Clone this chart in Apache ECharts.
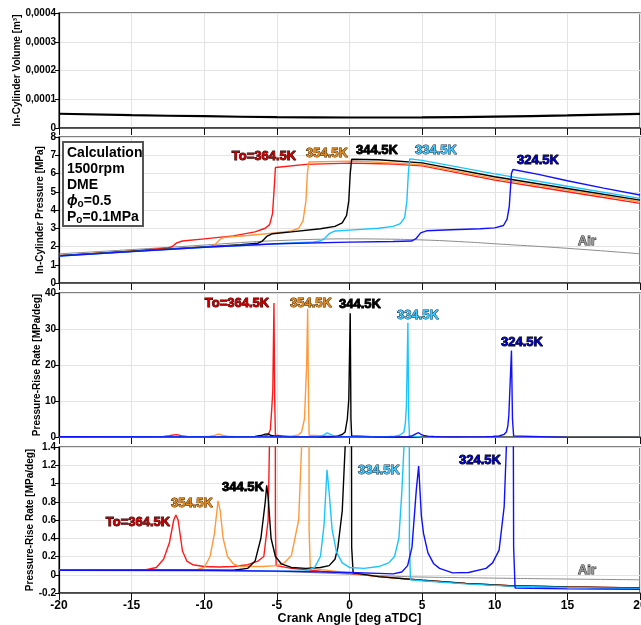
<!DOCTYPE html>
<html>
<head>
<meta charset="utf-8">
<script src="https://cdn.jsdelivr.net/npm/echarts@6/dist/echarts.min.js"></script>
<style>
  html, body { margin: 0; padding: 0; background: #fff; }
  #chart { width: 641px; height: 625px; }
</style>
</head>
<body>
<div id="chart"></div>
<script>
// crank angle ticks
const xTicks = [-20, -15, -10, -5, 0, 5, 10, 15, 20];

// in-cylinder volume [m3]
const volume = [[-20, 0.0000495], [-15, 0.0000445], [-10, 0.000041], [-5, 0.0000378], [0, 0.0000365],
  [5, 0.0000372], [10, 0.0000398], [15, 0.0000438], [20, 0.000049]];

// in-cylinder pressure [MPa]
const pAir = [[-20, 1.6], [-15, 1.83], [-10, 2.08], [-7, 2.24], [-5, 2.32], [-2, 2.4], [0, 2.42], [2, 2.41],
  [5, 2.36], [8, 2.25], [10, 2.15], [15, 1.9], [20, 1.6]];
const p364 = [[-20, 1.5], [-15, 1.74], [-12.5, 1.92], [-12.2, 2.0], [-11.9, 2.2], [-11.5, 2.3], [-10, 2.42],
  [-8, 2.58], [-6.5, 2.8], [-5.8, 3.0], [-5.5, 3.2], [-5.3, 3.8], [-5.2, 5.0], [-5.1, 6.33], [-3, 6.5],
  [0, 6.57], [3, 6.52], [5, 6.42], [10, 5.64], [15, 5.0], [20, 4.36]];
const p354 = [[-20, 1.5], [-15, 1.74], [-10, 1.98], [-9.5, 2.03], [-9.2, 2.15], [-8.9, 2.4], [-8.6, 2.5],
  [-7, 2.6], [-5, 2.75], [-4, 2.85], [-3.5, 3.0], [-3.2, 3.4], [-3.0, 4.5], [-2.9, 6.0], [-2.8, 6.63],
  [0, 6.68], [2, 6.62], [5, 6.48], [10, 5.72], [15, 5.09], [20, 4.45]];
const p344 = [[-20, 1.5], [-15, 1.74], [-10, 1.98], [-7.5, 2.1], [-6.3, 2.18], [-6.0, 2.3], [-5.7, 2.55],
  [-5.3, 2.7], [-4, 2.8], [-2, 2.97], [-1, 3.1], [-0.5, 3.3], [-0.2, 3.7], [-0.05, 4.5], [0.05, 6.0],
  [0.15, 6.78], [2, 6.75], [5, 6.58], [10, 5.82], [15, 5.18], [20, 4.54]];
const p334 = [[-20, 1.48], [-15, 1.72], [-10, 1.96], [-5, 2.15], [-2.5, 2.25], [-2.0, 2.3], [-1.7, 2.45],
  [-1.4, 2.7], [-1.0, 2.85], [0, 2.9], [2, 3.0], [3, 3.1], [3.5, 3.25], [3.8, 3.6], [3.95, 4.5], [4.05, 6.0],
  [4.15, 6.8], [5, 6.72], [10, 5.98], [15, 5.3], [20, 4.64]];
const p324 = [[-20, 1.48], [-15, 1.72], [-10, 1.96], [-5, 2.15], [0, 2.24], [3, 2.27], [4.3, 2.3], [4.6, 2.45],
  [4.9, 2.75], [5.3, 2.86], [7, 2.92], [9, 2.97], [10, 3.02], [10.6, 3.15], [10.85, 3.5], [11.0, 4.2],
  [11.15, 6.0], [11.25, 6.22], [13, 5.95], [15, 5.6], [17.5, 5.2], [20, 4.82]];

// pressure-rise rate [MPa/deg]
const rAir = [[-20, 0.055], [-10, 0.05], [-5, 0.035], [-2, 0.02], [0, 0.005], [3, -0.015], [5, -0.025],
  [10, -0.037], [15, -0.047], [20, -0.055]];
const r364 = [[-20, 0.05], [-15, 0.05], [-14, 0.055], [-13.3, 0.08], [-12.8, 0.17], [-12.4, 0.35], [-12.1, 0.6],
  [-11.95, 0.655], [-11.8, 0.6], [-11.5, 0.26], [-11.2, 0.15], [-10.8, 0.11], [-10, 0.09], [-9, 0.085],
  [-8, 0.09], [-7, 0.11], [-6.3, 0.15], [-5.9, 0.2], [-5.6, 0.6], [-5.45, 2], [-5.35, 8], [-5.28, 13],
  [-5.2, 37.2], [-5.15, 10], [-5.1, 0.5], [-5.05, 0.1], [-4, 0.07], [-2, 0.04], [0, 0.015], [2, -0.02],
  [5, -0.06], [8, -0.095], [11, -0.12], [15, -0.135], [20, -0.145]];
const r354 = [[-20, 0.05], [-10.5, 0.055], [-10, 0.08], [-9.6, 0.2], [-9.3, 0.45], [-9.05, 0.81], [-8.9, 0.7],
  [-8.7, 0.4], [-8.4, 0.2], [-8, 0.12], [-7.5, 0.09], [-6, 0.09], [-5, 0.1], [-4.5, 0.13], [-4, 0.21],
  [-3.5, 0.6], [-3.3, 1.4], [-3.1, 5], [-2.95, 20], [-2.88, 35.6], [-2.82, 10], [-2.78, 0.5], [-2.7, 0.07],
  [0, 0.02], [2, -0.02], [5, -0.06], [8, -0.095], [11, -0.12], [15, -0.135], [20, -0.145]];
const r344 = [[-20, 0.05], [-8, 0.05], [-7, 0.07], [-6.5, 0.15], [-6.1, 0.4], [-5.8, 0.8], [-5.7, 0.98],
  [-5.6, 0.85], [-5.4, 0.4], [-5.1, 0.2], [-4.7, 0.12], [-4, 0.08], [-3, 0.07], [-2, 0.08], [-1.4, 0.1],
  [-1, 0.17], [-0.8, 0.3], [-0.5, 0.7], [-0.3, 1.4], [-0.15, 5], [-0.05, 10.4], [0.05, 34.4], [0.1, 5],
  [0.15, 0.3], [0.25, 0.02], [2, -0.02], [5, -0.06], [8, -0.095], [11, -0.12], [15, -0.135], [20, -0.145]];
const r334 = [[-20, 0.05], [-5, 0.04], [-3, 0.04], [-2.4, 0.08], [-2.0, 0.2], [-1.75, 0.55], [-1.55, 1.15],
  [-1.4, 0.9], [-1.2, 0.5], [-0.9, 0.25], [-0.5, 0.13], [0, 0.08], [1, 0.07], [2, 0.09], [2.7, 0.13],
  [3.1, 0.2], [3.4, 0.4], [3.6, 0.9], [3.75, 1.4], [3.85, 4], [3.92, 8.8], [4.02, 31.7], [4.08, 5],
  [4.13, 0.3], [4.2, -0.055], [5, -0.065], [8, -0.1], [11, -0.125], [15, -0.14], [20, -0.15]];
const r324 = [[-20, 0.05], [-10, 0.048], [-5, 0.04], [0, 0.025], [2, 0.015], [3, 0.01], [3.6, 0.03], [4.0, 0.1],
  [4.3, 0.3], [4.6, 0.93], [4.76, 1.19], [4.95, 0.64], [5.1, 0.45], [5.4, 0.24], [5.8, 0.12], [6.2, 0.07],
  [7.1, 0.02], [8.2, 0.025], [9.4, 0.07], [9.85, 0.13], [10.3, 0.27], [10.65, 0.75], [10.8, 1.4], [10.9, 3],
  [10.97, 6], [11.15, 24], [11.22, 5], [11.3, 0.3], [11.4, -0.145], [15, -0.155], [20, -0.16]];

const FONT = '"Liberation Sans", Arial, sans-serif';
const COL = { air: '#8c8c8c', t364: '#ff1a1a', t354: '#ff9a3c', t344: '#000000', t334: '#1cc4ff', t324: '#1010ff' };

const chart = echarts.init(document.getElementById('chart'), null, { renderer: 'canvas' });

const tops = [13, 137, 293, 447];
const heights = [115, 146, 144, 146];
const grids = tops.map((t, i) => ({
  left: 59, right: 1, top: t, height: heights[i], outerBoundsMode: 'none', containLabel: false,
  show: true, borderColor: '#555', borderWidth: 1.5, backgroundColor: 'transparent'
}));

const xAxes = tops.map((t, i) => ({
  type: 'value', gridIndex: i, min: -20, max: 20, interval: 5,
  axisLine: { show: true, onZero: false, lineStyle: { color: '#333', width: 1.5 } },
  axisTick: { show: true, inside: false, length: 7, lineStyle: { color: '#111' } },
  axisLabel: { show: i === 3, color: '#000', fontFamily: FONT, fontWeight: 'bold', fontSize: 12, margin: 7 },
  splitLine: { show: true, lineStyle: { color: '#e3e3e3', width: 1 } },
  name: i === 3 ? 'Crank Angle [deg aTDC]' : '', nameLocation: 'middle', nameGap: 19, nameMoveOverlap: false,
  nameTextStyle: { color: '#000', fontFamily: FONT, fontWeight: 'bold', fontSize: 12.5, verticalAlign: 'top' }
}));

const yDefs = [
  { min: 0, max: 0.0004, interval: 0.0001, name: 'In-Cylinder Volume [m³]', gap: 37,
    fmt: v => v === 0 ? '0' : v.toFixed(4).replace('.', ',') },
  { min: 0, max: 8, interval: 1, name: 'In-Cylinder Pressure [MPa]', gap: 14 },
  { min: 0, max: 40, interval: 10, name: 'Pressure-Rise Rate [MPa/deg]', gap: 17 },
  { min: -0.2, max: 1.4, interval: 0.2, name: 'Pressure-Rise Rate [MPa/deg]', gap: 24,
    fmt: v => String(Math.round(v * 10) / 10) }
];
const yAxes = yDefs.map((d, i) => ({
  type: 'value', gridIndex: i, min: d.min, max: d.max, interval: d.interval,
  axisLine: { show: true, onZero: false, lineStyle: { color: '#000', width: 1.2 } },
  axisTick: { show: true, inside: false, length: 4, lineStyle: { color: '#000' } },
  axisLabel: { color: '#000', fontFamily: FONT, fontWeight: 'bold', fontSize: 10, margin: 3, formatter: d.fmt },
  splitLine: { show: true, lineStyle: { color: '#e3e3e3', width: 1 } },
  name: d.name, nameLocation: 'middle', nameRotate: 90, nameGap: d.gap, nameMoveOverlap: false,
  nameTextStyle: { color: '#000', fontFamily: FONT, fontWeight: 'bold', fontSize: 10 }
}));

function line(data, color, idx, width, smooth) {
  return {
    type: 'line', data: data, xAxisIndex: idx, yAxisIndex: idx,
    showSymbol: false, smooth: !!smooth, animation: false,
    lineStyle: { color: color, width: width || 1.3 }, clip: true
  };
}

const series = [line(volume, '#000', 0, 2.2, true)];
[[pAir, COL.air, true], [p364, COL.t364], [p354, COL.t354], [p344, COL.t344], [p334, COL.t334], [p324, COL.t324]]
  .forEach(s => series.push(line(s[0], s[1], 1, s[2] ? 1 : 1.4, s[2])));
[2, 3].forEach(g => {
  [[rAir, COL.air, true], [r364, COL.t364], [r354, COL.t354], [r344, COL.t344], [r334, COL.t334], [r324, COL.t324]]
    .forEach(s => series.push(line(s[0], s[1], g, s[2] ? 1 : 1.4, s[2])));
});

function tag(text, x, y, fill, stroke) {
  return {
    type: 'text', x: x, y: y, z: 100,
    style: { text: text, fill: fill, stroke: stroke, lineWidth: 0.9, font: 'bold 13px ' + FONT,
      align: 'center', verticalAlign: 'middle',
      shadowColor: 'rgba(0,0,0,0.6)', shadowOffsetX: 1, shadowOffsetY: 1, shadowBlur: 0 }
  };
}
const tags = [
  tag('To=364.5K', 264, 156, '#c00000', '#300'), tag('354.5K', 327, 153, '#e08a20', '#3a2000'),
  tag('344.5K', 377, 150, '#000', '#000'), tag('334.5K', 436, 150, '#40c8ff', '#123'),
  tag('324.5K', 538, 160, '#0000c0', '#000'), tag('Air', 587, 241, '#999', '#222'),
  tag('To=364.5K', 237, 303, '#c00000', '#300'), tag('354.5K', 311, 303, '#e08a20', '#3a2000'),
  tag('344.5K', 360, 304, '#000', '#000'), tag('334.5K', 418, 315, '#40c8ff', '#123'),
  tag('324.5K', 522, 342, '#0000c0', '#000'),
  tag('To=364.5K', 138, 522, '#c00000', '#300'), tag('354.5K', 192, 503, '#e08a20', '#3a2000'),
  tag('344.5K', 243, 487, '#000', '#000'), tag('334.5K', 379, 470, '#40c8ff', '#123'),
  tag('324.5K', 480, 460, '#0000c0', '#000'), tag('Air', 587, 570, '#999', '#222')
];

const infoBox = {
  type: 'group', x: 63, y: 142, z: 100,
  children: [
    { type: 'rect', shape: { x: 0, y: 0, width: 80, height: 84 }, z: 100,
      style: { fill: '#fff', stroke: '#555', lineWidth: 2 } },
    { type: 'text', x: 4, y: 3, z: 101,
      style: {
        text: 'Calculation\n1500rpm\nDME\n{phi|ϕ}{sub|o}=0.5\nP{sub|o}=0.1MPa',
        font: 'bold 14px ' + FONT, fill: '#000', lineHeight: 16,
        rich: {
          phi: { font: 'italic bold 14px ' + FONT, fill: '#000', lineHeight: 16 },
          sub: { font: 'bold 10px ' + FONT, fill: '#000', verticalAlign: 'bottom', padding: [6, 0, 0, 0], lineHeight: 16 }
        }
      } }
  ]
};

chart.setOption({
  animation: false,
  backgroundColor: '#fff',
  grid: grids,
  xAxis: xAxes,
  yAxis: yAxes,
  series: series,
  graphic: tags.concat([infoBox])
});
</script>
</body>
</html>
